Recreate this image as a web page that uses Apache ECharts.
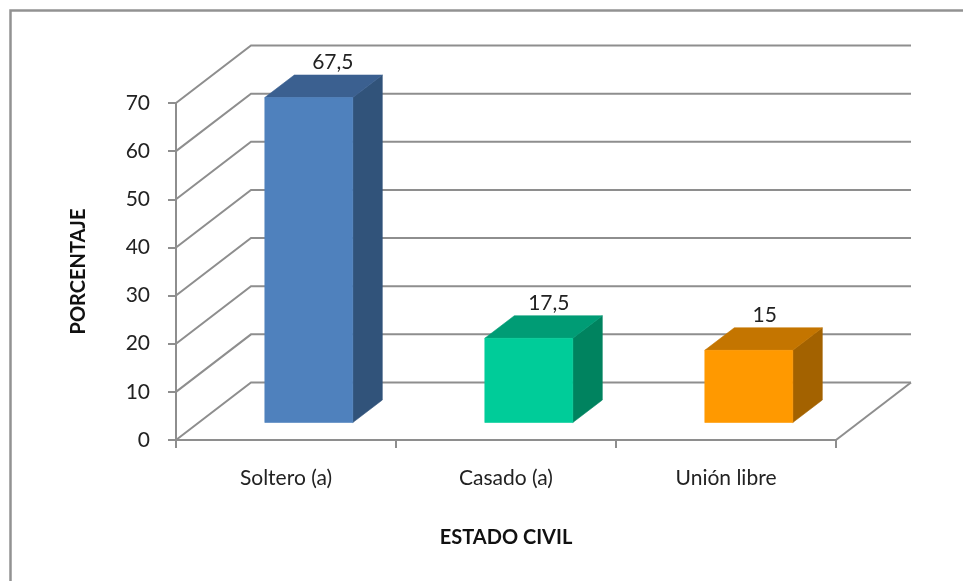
<!DOCTYPE html>
<html>
<head>
<meta charset="utf-8">
<style>html,body{margin:0;padding:0;background:#fff}#c{width:963px;height:581px}</style>
<script src="https://cdn.jsdelivr.net/npm/echarts@6/dist/echarts.min.js"></script>
</head>
<body>
<div id="c"></div>
<script>
const categories = ['Soltero (a)', 'Casado (a)', 'Unión libre'];
const percentages = [67.5, 17.5, 15];
const yTicks = [0, 10, 20, 30, 40, 50, 60, 70];
const xAxisTitle = 'ESTADO CIVIL';
const yAxisTitle = 'PORCENTAJE';

const frontColors = ['#4f81bd', '#00cc99', '#ff9900'];
const topColors = ['#3b6090', '#009c75', '#c47500'];
const sideColors = ['#31537a', '#00835f', '#a36200'];

const FONT = 'Lato';
const TEXT = '#222222';
const GRID = '#8e8e8e';
const WALL_DX = 75, WALL_DY = -57.5;     // depth of the 3D floor
const BAR_DX = 29.5, BAR_DY = -22.5;     // depth of a bar
const BAR_INSET_X = 22.8, BAR_INSET_Y = -17.5; // position of a bar front on the floor
const BAR_W = 88;

function poly(points, fill) {
  return { type: 'polygon', shape: { points: points }, style: { fill: fill, stroke: fill, lineWidth: 0.6 } };
}

const chart = echarts.init(document.getElementById('c'), null, { renderer: 'canvas' });
chart.setOption({
  animation: false,
  backgroundColor: '#ffffff',
  textStyle: { fontFamily: FONT },
  graphic: [{
    type: 'polyline',
    shape: { points: [[10.5, 581], [10.5, 10.5], [963, 10.5]] },
    style: { fill: null, stroke: '#929292', lineWidth: 2.5 },
    silent: true
  }],
  grid: { left: 176, right: 127, top: 103, bottom: 141, containLabel: false },
  xAxis: {
    type: 'category',
    data: categories,
    name: xAxisTitle,
    nameLocation: 'middle',
    nameGap: 88,
    nameTextStyle: { fontFamily: FONT, fontWeight: 'bold', fontSize: 20, color: '#111' },
    axisLine: { lineStyle: { color: GRID, width: 2 } },
    axisTick: { show: true, alignWithLabel: false, length: 8, lineStyle: { color: GRID, width: 2 } },
    axisLabel: { margin: 28, fontFamily: FONT, fontSize: 21, color: TEXT },
    splitLine: { show: false }
  },
  yAxis: {
    type: 'value',
    min: 0,
    max: 70,
    interval: 10,
    name: yAxisTitle,
    nameLocation: 'middle',
    nameGap: 87,
    nameTextStyle: { fontFamily: FONT, fontWeight: 'bold', fontSize: 20, color: '#111' },
    axisLine: { show: true, lineStyle: { color: GRID, width: 2 } },
    axisTick: { show: true, length: 8, lineStyle: { color: GRID, width: 2 } },
    axisLabel: { margin: 26, fontFamily: FONT, fontSize: 21, color: TEXT },
    splitLine: { show: false }
  },
  series: [{
    type: 'custom',
    name: 'walls',
    coordinateSystem: 'cartesian2d',
    silent: true,
    z: 1,
    data: yTicks.map(function (t) { return [0, t]; }),
    renderItem: function (params, api) {
      const cs = params.coordSys;
      const y = api.coord([0, api.value(1)])[1];
      const left = cs.x, right = cs.x + cs.width;
      const children = [{
        type: 'polyline',
        shape: { points: [[left, y], [left + WALL_DX, y + WALL_DY], [right + WALL_DX, y + WALL_DY]] },
        style: { fill: null, stroke: GRID, lineWidth: 2 }
      }];
      if (api.value(1) === 0) {
        children.push({
          type: 'line',
          shape: { x1: right, y1: y, x2: right + WALL_DX, y2: y + WALL_DY },
          style: { stroke: GRID, lineWidth: 2 }
        });
      }
      return { type: 'group', children: children };
    }
  }, {
    type: 'custom',
    name: 'PORCENTAJE',
    coordinateSystem: 'cartesian2d',
    z: 5,
    data: percentages.map(function (v, i) { return [i, v]; }),
    renderItem: function (params, api) {
      const i = api.value(0), v = api.value(1);
      const top = api.coord([i, v]);
      const base = api.coord([i, 0]);
      const cx = top[0] + BAR_INSET_X;
      const x0 = cx - BAR_W / 2, x1 = cx + BAR_W / 2;
      const yT = top[1] + BAR_INSET_Y, yB = base[1] + BAR_INSET_Y;
      return {
        type: 'group',
        children: [
          poly([[x1, yT], [x1 + BAR_DX, yT + BAR_DY], [x1 + BAR_DX, yB + BAR_DY], [x1, yB]], sideColors[i]),
          poly([[x0, yT], [x0 + BAR_DX, yT + BAR_DY], [x1 + BAR_DX, yT + BAR_DY], [x1, yT]], topColors[i]),
          poly([[x0, yT], [x1, yT], [x1, yB], [x0, yB]], frontColors[i]),
          {
            type: 'text',
            x: cx + 24 - 4 * i,
            y: yT - 35,
            style: {
              text: String(v).replace('.', ','),
              fontFamily: FONT,
              fontSize: 21,
              fill: TEXT,
              align: 'center',
              verticalAlign: 'middle'
            }
          }
        ]
      };
    }
  }]
});
</script>
</body>
</html>
